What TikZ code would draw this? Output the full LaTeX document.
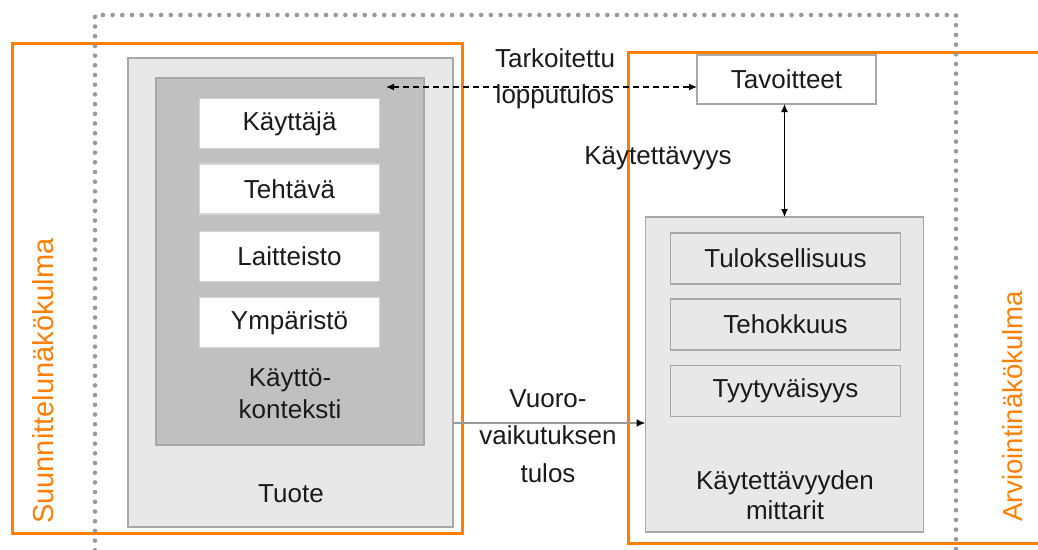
\documentclass[tikz,border=0pt]{standalone}
\usepackage{fontspec}
\setmainfont{Liberation Sans}
\usetikzlibrary{arrows.meta,calc}
\definecolor{orng}{HTML}{FF7F00}
\definecolor{bordergray}{HTML}{A8A8A8}
\definecolor{whiteborder}{HTML}{D4D4D4}
\definecolor{lightfill}{HTML}{E8E8E8}
\definecolor{midfill}{HTML}{C0C0C0}
\definecolor{dotgray}{HTML}{999999}
\definecolor{txt}{HTML}{1A1A1A}
\definecolor{linegray}{HTML}{999999}
\tikzset{
  lbl/.style={font=\fontsize{26}{34}\selectfont, text=txt, inner sep=0pt, outer sep=0pt},
  orangebox/.style={draw=orng, line width=3pt, inner sep=0pt, outer sep=0pt},
  orangelbl/.style={text=orng, inner sep=0pt, rotate=90, anchor=base west},
  outerbox/.style={draw=bordergray, line width=1.5pt, fill=lightfill, inner sep=0pt, outer sep=0pt},
  ctxbox/.style={draw=bordergray, line width=1.5pt, fill=midfill, inner sep=0pt, outer sep=0pt},
  whitebox/.style={lbl, draw=whiteborder, line width=1.5pt, fill=white, minimum width=180pt, minimum height=50pt},
  tavbox/.style={lbl, draw=bordergray, line width=1.5pt, fill=white, minimum width=179pt, minimum height=49pt},
  metricbox/.style={lbl, draw=bordergray, line width=1.5pt, fill=lightfill, minimum width=230pt, minimum height=51pt},
  dotframe/.style={draw=dotgray, line width=4.6pt, line cap=round, dash pattern=on 0pt off 9.7pt},
  dtip/.style={{Latex[length=8pt,width=7pt]}-{Latex[length=8pt,width=7pt]}},
}
\begin{document}
\begin{tikzpicture}[x=1pt,y=-1pt]
\useasboundingbox (0,0) rectangle (1038,549);
\fill[white] (0,0) rectangle (1038,549);

% orange perspective frames
\node[orangebox, minimum width=450pt, minimum height=490pt] (design) at (237,288) {};
\node[orangebox, minimum width=422pt, minimum height=491pt] (evaluation) at (839,297.5) {};

% product side
\node[outerbox, minimum width=325pt, minimum height=469pt] (tuote) at (290.5,292.5) {};
\node[ctxbox, minimum width=268pt, minimum height=367pt] (ctx) at (290,261.5) {};
\node[whitebox] (kayttaja) at (289.5,123.5) {Käyttäjä};
\node[whitebox] (tehtava) at (289.5,189) {Tehtävä};
\node[whitebox] (laitteisto) at (289.5,256.5) {Laitteisto};
\node[whitebox] (ymparisto) at (289.5,322.5) {Ympäristö};
\node[lbl, align=center, font=\fontsize{26}{32}\selectfont] (ctxlbl) at (290,394) {Käyttö-\\konteksti};
\node[lbl, anchor=base] (tuotelbl) at (291,502) {Tuote};

% evaluation side
\node[tavbox] (tav) at (786.5,79.5) {Tavoitteet};
\node[outerbox, minimum width=278pt, minimum height=315pt] (mit) at (784.5,374.5) {};
\node[metricbox] (tulos) at (785.5,258.5) {Tuloksellisuus};
\node[metricbox] (teho) at (785.5,324.5) {Tehokkuus};
\node[metricbox] (tyyty) at (785.5,391) {Tyytyväisyys};
\node[lbl, align=center, font=\fontsize{26}{30}\selectfont] (mitlbl) at (785,495.5) {Käytettävyyden\\mittarit};

% connectors
\coordinate (dashend) at (386,87);
\draw[dtip, dashed, dash pattern=on 6pt off 4pt, line width=1.2pt, black] (dashend) -- (dashend -| tav.west);
\draw[dtip, line width=1.2pt, black] (tav.south -| mit.north) -- (mit.north);
\coordinate (hstart) at (tuote.east |- 0,423);
\draw[linegray, line width=2pt, -{Latex[length=9pt,width=8pt,color=black]}] (hstart) -- (hstart -| mit.west);

% connector labels
\node[lbl, align=center, font=\fontsize{26}{36}\selectfont] (tarkoitettu) at (555,78.5) {Tarkoitettu\\lopputulos};
\node[lbl, anchor=base] (kaytettavyys) at (658,164) {Käytettävyys};
\node[lbl, align=center, font=\fontsize{26}{37.5}\selectfont] (vuoro) at (548,436) {Vuoro-\\vaikutuksen\\tulos};

% dotted system frame
\draw[dotframe] (95,560) -- (95,15) -- (956,15) -- (956,560);

% perspective labels
\node[orangelbl, font=\fontsize{29}{34}\selectfont] (suunnittelu) at (53,524) {Suunnittelunäkökulma};
\node[orangelbl, font=\fontsize{27.5}{34}\selectfont] (arviointi) at (1022,522) {Arviointinäkökulma};
\end{tikzpicture}
\end{document}
